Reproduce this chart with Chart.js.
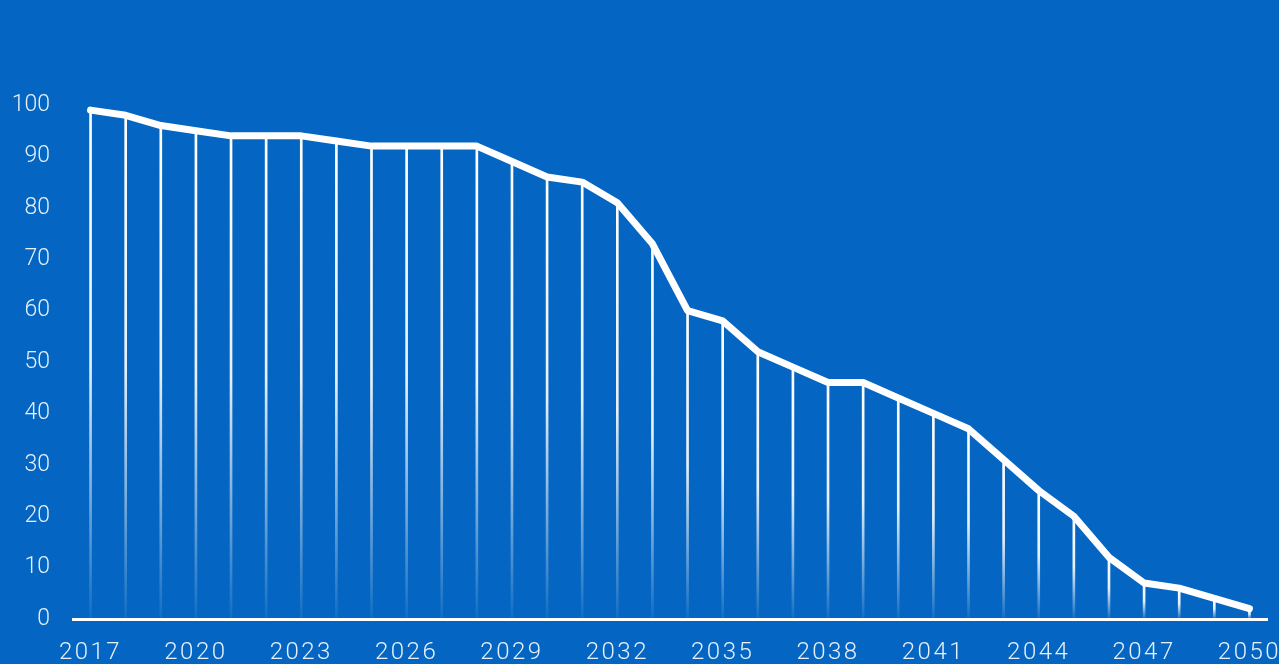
<!DOCTYPE html>
<html>
<head>
<meta charset="utf-8">
<script src="https://cdn.jsdelivr.net/npm/chart.js@4/dist/chart.umd.min.js"></script>
<style>
  html, body { margin: 0; padding: 0; background: #0466c2; }
  #wrap { width: 1279px; height: 664px; }
</style>
</head>
<body>
<div id="wrap"><canvas id="chart"></canvas></div>
<script>
// Years on the x axis
const years = [];
for (let y = 2017; y <= 2050; y++) years.push(String(y));

// Values
const values = [99, 98, 96, 95, 94, 94, 94, 93, 92, 92, 92, 92, 89, 86, 85, 81, 73,
                60, 58, 52, 49, 46, 46, 43, 40, 37, 31, 25, 20, 12, 7, 6, 4, 2];

const yTicks = [0, 10, 20, 30, 40, 50, 60, 70, 80, 90, 100];

const textColor = "rgba(255,255,255,0.9)";

// Wider letter spacing on the year labels only
const spacing = {
    id: "spacing",
    afterLayout(chart) {
        const s = chart.scales.x;
        if (s._spaced) return;
        const orig = s.drawLabels;
        s.drawLabels = function (area) {
            this.ctx.save();
            this.ctx.letterSpacing = "2.5px";
            orig.call(this, area);
            this.ctx.restore();
        };
        s._spaced = true;
    }
};

// Gradient for the drop lines, fading toward the baseline
function dropColor(context) {
    const chart = context.chart;
    if (!chart.chartArea) return "rgba(255,255,255,0.8)";
    const yScale = chart.scales.y;
    const top = yScale.getPixelForValue(values[context.dataIndex]);
    const bottom = yScale.getPixelForValue(0);
    if (!isFinite(top) || bottom - top < 1) return "rgba(255,255,255,0.8)";
    const g = chart.ctx.createLinearGradient(0, top, 0, bottom);
    g.addColorStop(0, "rgba(255,255,255,1)");
    g.addColorStop(0.5, "rgba(255,255,255,0.9)");
    g.addColorStop(1, "rgba(255,255,255,0.05)");
    return g;
}

const ctx = document.getElementById("chart").getContext("2d");
new Chart(ctx, {
    data: {
        labels: years,
        datasets: [{
            type: "line",
            data: values,
            borderColor: "#ffffff",
            borderWidth: 7,
            borderCapStyle: "round",
            borderJoinStyle: "round",
            pointRadius: 0,
            tension: 0,
            order: 0
        }, {
            type: "bar",
            data: values,
            backgroundColor: dropColor,
            barThickness: 2,
            order: 1
        }]
    },
    options: {
        responsive: true,
        maintainAspectRatio: false,
        animation: false,
        layout: { padding: { top: 105, right: 12, left: 0, bottom: 0 } },
        plugins: {
            legend: { display: false },
            tooltip: { enabled: false }
        },
        scales: {
            x: {
                offset: true,
                grid: { display: false },
                border: { display: true, color: "#ffffff", width: 3 },
                afterFit: (s) => { s.height = 45; s.paddingLeft = 0; s.paddingRight = 0; },
                ticks: {
                    autoSkip: false,
                    maxRotation: 0,
                    padding: 12,
                    color: textColor,
                    font: { family: "Roboto", weight: 300, size: 24 },
                    callback: (v, i) => (i % 3 === 0 ? years[i] : "")
                }
            },
            y: {
                min: 0,
                max: 100,
                afterBuildTicks: (axis) => { axis.ticks = yTicks.map(v => ({ value: v })); },
                afterFit: (s) => { s.width = 73; },
                grid: { display: false },
                border: { display: false },
                ticks: {
                    padding: 15,
                    color: textColor,
                    font: { family: "Roboto", weight: 300, size: 23 }
                }
            }
        }
    },
    plugins: [spacing]
});
</script>
</body>
</html>
